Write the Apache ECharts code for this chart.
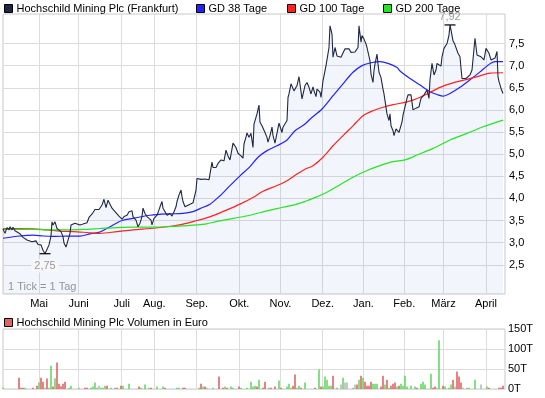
<!DOCTYPE html>
<html>
<head>
<meta charset="utf-8">
<title>Hochschild Mining Plc</title>
<script src="https://cdn.jsdelivr.net/npm/echarts@6/dist/echarts.min.js"></script>
<style>
    html, body { margin: 0; padding: 0; background: #fff; }
    #chart { width: 545px; height: 398px; }
</style>
</head>
<body>
<div id="chart"></div>
<script>
// Kurs in EUR, x = Handelstag seit Anfang April des Vorjahres
var kurs = [
    [0,3.31],[1,3.21],[2,3.34],[3,3.29],[3.5,3.36],[4.5,3.29],[5,3.35],[6,3.27],[7,3.29],[8.5,3.20],[10,3.12],[11,3.15],
    [12,3.06],[13,3.08],[14.5,3.02],[15,3.00],[16.5,3.04],[17.5,2.96],[19,2.95],[20,2.83],[21,2.75],[22,2.77],[23,2.95],
    [24,3.15],[24.5,3.47],[25,3.40],[26,3.47],[27,3.32],[28,3.29],[29,3.25],[30,3.14],[30.5,2.99],[31.5,2.90],[32.5,2.92],
    [33.5,3.21],[34,3.40],[35,3.40],[36,3.44],[37,3.45],[38.5,3.40],[40,3.42],[41,3.42],[42,3.45],[43,3.57],[44,3.62],
    [45,3.68],[46,3.75],[47,3.78],[48,3.75],[49.5,3.85],[50.5,3.98],[51.5,3.79],[52.5,3.96],[53.5,4.00],[54.5,3.78],
    [55,3.81],[56,3.70],[57,3.66],[58,3.60],[59.5,3.53],[60.5,3.59],[62,3.62],[63,3.70],[64.5,3.72],[65,3.59],[66.5,3.51],
    [67.5,3.36],[68.5,3.44],[69.5,3.59],[70,3.78],[71,3.66],[72,3.59],[72.5,3.62],[74,3.51],[74.5,3.40],[75.5,3.55],
    [77,3.62],[77.5,3.68],[78.5,3.81],[79.5,3.93],[80,3.78],[81,3.70],[82,3.62],[82.5,3.59],[83.5,3.66],[84.5,3.60],
    [85.5,3.70],[86.5,3.81],[87,3.93],[88,4.08],[89,4.19],[89.5,4.04],[90,3.93],[91,3.81],[92,3.85],[93.5,3.87],[95,3.90],
    [96,3.89],[96.5,4.19],[97,4.45],[98,4.48],[99,4.43],[100,4.43],[101,4.44],[102,4.45],[103,4.42],[104.5,4.82],[105,4.70],
    [106,4.74],[106.5,4.70],[107.5,4.79],[109,4.87],[110,4.91],[110.5,4.85],[111.5,5.09],[112.5,4.96],[113.5,4.87],
    [114.5,5.12],[115,5.25],[116.5,5.15],[117.5,5.02],[119,4.96],[120,4.91],[120.5,5.23],[121.5,5.39],[122,5.48],[123,5.38],
    [124,5.47],[125,5.15],[125.5,5.68],[126,5.70],[127,5.91],[128,6.11],[128.5,5.72],[129.5,5.64],[130,5.61],[131,5.49],
    [132,5.38],[132.5,5.27],[133.5,5.42],[134.5,5.61],[135,5.42],[136,5.25],[137,5.25],[138,5.70],[138.5,5.68],[139.5,5.49],
    [140,5.61],[141,5.64],[142,5.76],[142.5,6.28],[143,6.36],[144,6.59],[145,6.60],[145.5,6.43],[147,6.55],[148,6.75],
    [149.5,6.25],[150,6.28],[151,6.55],[152,6.62],[153,6.51],[154,6.36],[155,6.52],[155.5,6.43],[156.5,6.30],[157,6.47],
    [158,6.49],[158.5,6.40],[159,6.28],[160,6.66],[160.5,6.77],[161.5,7.00],[162,7.04],[163,7.41],[163.5,7.90],[164.5,7.71],
    [165,7.19],[166,7.41],[167,7.22],[167.5,7.19],[169,7.19],[170,7.20],[171,7.38],[172,7.35],[173,7.38],[174,7.30],
    [175,7.32],[176,7.31],[177,7.32],[177.5,7.41],[178,7.90],[179,7.53],[179.5,7.68],[180.5,7.60],[181.5,7.49],[182,7.41],
    [183,7.38],[183.5,7.11],[184,6.81],[185,6.62],[185.5,6.89],[186,7.04],[187,7.26],[187.5,7.04],[188,6.85],[189,6.73],
    [190,6.47],[190.5,6.36],[191,6.21],[192,5.91],[193,5.76],[193.5,5.91],[194,5.64],[195,5.53],[195.5,5.42],[196.5,5.57],
    [197.5,5.53],[198,5.49],[199.5,5.73],[200,5.88],[201,6.07],[202,6.26],[202.5,6.34],[203,6.30],[204,6.34],[205,6.00],
    [205.5,6.00],[206.5,6.04],[207,6.00],[208,6.07],[209,6.26],[210,6.28],[210.5,6.34],[211.5,6.37],[212,6.45],[213,6.26],
    [213.5,6.68],[214.5,7.05],[215,7.01],[215.5,6.79],[216.5,6.90],[217,7.05],[218,7.09],[219,6.99],[219.5,7.20],[220.5,7.39],
    [221.5,7.35],[222,7.50],[223,7.69],[223.5,7.92],[224,7.81],[225,7.56],[225.5,7.58],[226,7.47],[227,7.43],[227.5,7.28],
    [228.5,7.20],[229,6.94],[229.5,6.71],[230.5,6.71],[231.5,6.71],[232.5,6.71],[233.5,6.79],[234.5,6.90],[235,6.94],
    [236,7.62],[237,7.24],[237.5,7.20],[239,7.20],[240,7.17],[240.5,7.13],[241.5,7.39],[242.5,7.41],[243,7.28],[244,7.13],
    [245,7.09],[246,7.17],[247,7.32],[247.5,6.75],[248,6.64],[249,6.49],[250,6.37]
];

// gleitende Durchschnitte
var gd38 = [
    [0,3.10],[8.5,3.15],[15,3.17],[20,3.15],[25,3.14],[32,3.15],[38.5,3.15],[43.5,3.20],[48.5,3.24],[53.5,3.36],
    [59.5,3.50],[65,3.55],[73.5,3.62],[82,3.65],[90,3.66],[95,3.70],[98.5,3.77],[103.5,3.87],[108.5,4.06],[113.5,4.29],
    [118.5,4.51],[123.5,4.72],[127.5,4.93],[132,5.08],[137,5.19],[142,5.32],[146,5.53],[151,5.68],[153.5,5.79],
    [159.5,6.02],[165,6.32],[170,6.59],[175,6.85],[179.5,7.00],[183.5,7.06],[188.5,7.09],[192.5,7.05],[197,6.96],
    [198.5,6.88],[203.5,6.71],[208.5,6.56],[213.5,6.41],[217.5,6.34],[220,6.31],[223.5,6.37],[228.5,6.51],[233.5,6.68],
    [238.5,6.86],[242.5,7.01],[246,7.09],[250,7.09]
];
var gd100 = [
    [0,3.32],[8.5,3.32],[15,3.31],[22,3.29],[28.5,3.26],[35,3.25],[42,3.23],[48.5,3.21],[57,3.25],[65,3.29],
    [73.5,3.32],[82,3.36],[90,3.42],[97,3.50],[101,3.55],[105,3.61],[112,3.74],[118.5,3.87],[125,4.02],[130,4.16],
    [137,4.29],[142,4.40],[147,4.55],[151,4.66],[155,4.74],[160,4.93],[165,5.19],[170,5.42],[175,5.64],[180,5.87],
    [185,5.98],[190,6.06],[195,6.12],[201,6.17],[205,6.22],[212,6.36],[218.5,6.51],[225,6.61],[232,6.69],[238.5,6.77],
    [243.5,6.83],[250,6.84]
];
var gd200 = [
    [0,3.30],[15,3.30],[23.5,3.29],[32,3.29],[40,3.30],[48.5,3.32],[57,3.34],[65,3.35],[73.5,3.35],[82,3.36],
    [90,3.38],[101,3.42],[107,3.48],[115,3.55],[123.5,3.62],[132,3.72],[140,3.80],[147,3.87],[151,3.93],[155,4.00],
    [162,4.14],[168.5,4.31],[175,4.48],[182,4.63],[188.5,4.74],[195,4.83],[201,4.87],[207,4.98],[215,5.13],[223.5,5.32],
    [232,5.47],[240,5.62],[250,5.77]
];

// Volumen in Tausend Euro: [Tag, Wert, Richtung 1 = Plus, -1 = Minus, 0 = unverändert]
var volumen = [
    [0,3,1],[8,28,-1],[9,3,-1],[10,3,-1],[11,3,1],[15,3,-1],[17,8,-1],[18,16,1],[19,28,-1],[20,18,-1],[21,3,0],
    [22,26,-1],[23,3,1],[24,58,1],[25,6,-1],[26,27,1],[27,66,-1],[28,13,-1],[29,7,-1],[30,13,-1],[31,18,-1],[33,3,1],
    [34,8,1],[38,3,1],[41,3,-1],[42,3,-1],[44,3,1],[45,6,1],[46,16,1],[47,3,1],[48,8,0],[49,3,1],[50,3,1],[51,8,1],
    [52,8,-1],[54,3,1],[56,3,1],[57,3,-1],[59,8,-1],[60,8,1],[63,13,1],[68,6,-1],[69,3,1],[71,11,1],[73,3,1],[74,3,-1],
    [77,6,1],[80,6,1],[81,3,-1],[87,3,1],[88,3,1],[90,3,-1],[91,3,-1],[98,3,1],[99,13,-1],[100,6,1],[101,6,-1],[102,3,0],
    [105,3,1],[108,31,-1],[110,3,-1],[111,6,1],[112,3,-1],[114,6,1],[115,3,1],[118,6,-1],[119,3,1],[122,3,1],[124,18,1],
    [125,6,1],[126,8,1],[127,6,-1],[128,23,1],[130,3,-1],[131,18,-1],[133,3,1],[134,3,-1],[136,6,-1],[138,21,1],
    [139,3,-1],[142,6,1],[143,13,1],[144,3,1],[145,8,-1],[146,36,-1],[147,3,1],[148,8,1],[149,3,-1],[151,16,1],
    [156,3,-1],[158,49,1],[159,6,-1],[160,6,1],[161,31,1],[162,23,1],[163,8,1],[164,8,1],[165,33,-1],[167,3,1],
    [169,11,0],[170,28,1],[171,16,0],[172,16,0],[175,3,1],[176,11,0],[177,11,-1],[178,23,1],[179,33,-1],[180,28,1],
    [181,18,-1],[182,8,-1],[183,8,-1],[184,18,-1],[185,13,1],[186,13,1],[187,13,1],[189,6,-1],[190,33,-1],[191,11,1],
    [192,23,-1],[193,3,1],[194,8,-1],[195,13,-1],[196,16,-1],[197,6,1],[198,8,-1],[199,13,1],[200,8,1],[201,33,1],
    [202,6,1],[204,8,1],[206,6,1],[207,3,-1],[209,13,1],[210,18,1],[211,11,1],[214,38,1],[215,3,-1],[216,6,-1],
    [217,3,0],[218,122,1],[220,8,-1],[221,6,1],[223,3,1],[224,11,1],[225,23,-1],[226,6,0],[227,44,-1],[228,31,-1],
    [229,16,-1],[230,3,0],[232,3,1],[233,3,1],[236,23,1],[239,11,0],[242,6,1],[243,3,-1],[248,3,-1],[249,3,-1],[250,8,-1]
];

// Monatsanfänge (Handelstag) und Beschriftung
var monatTage = [18, 37.85, 59.35, 75.65, 96.85, 118.15, 138.75, 159.85, 180.25, 200.6, 220.25, 241.5];
var monatNamen = ['Mai', 'Juni', 'Juli', 'Aug.', 'Sep.', 'Okt.', 'Nov.', 'Dez.', 'Jan.', 'Feb.', 'März', 'April'];
var kursTicks = [2.5, 3, 3.5, 4, 4.5, 5, 5.5, 6, 6.5, 7, 7.5];
var volTicks = [0, 50, 100, 150];

var farben = { '1': '#5cd65c', '-1': '#de5a5a', '0': '#b4b4b4' };
var gitter = '#dcdcdc';

function komma(v, n) {
    return v.toFixed(n).replace('.', ',');
}

function legende(name, left, top) {
    return {
        data: [name],
        left: left,
        top: top,
        padding: 0,
        icon: 'rect',
        itemWidth: 8,
        itemHeight: 8,
        itemGap: 0,
        selectedMode: false,
        itemStyle: { borderColor: '#000', borderWidth: 1 },
        textStyle: { fontSize: 11, color: '#000', padding: [0, 0, 0, -1] }
    };
}

var xAchse = function(index, labels) {
    return {
        type: 'value',
        gridIndex: index,
        min: 0,
        max: 251,
        axisLine: { show: false },
        axisTick: { show: false, customValues: monatTage },
        splitLine: { show: true, lineStyle: { color: gitter, width: 1 } },
        axisLabel: {
            show: labels,
            customValues: monatTage,
            margin: 4,
            fontSize: 11,
            color: '#000',
            formatter: function(v) {
                var i = monatTage.indexOf(v);
                return i >= 0 ? monatNamen[i] : '';
            }
        }
    };
};

var chart = echarts.init(document.getElementById('chart'), null, { renderer: 'canvas' });

chart.setOption({
    backgroundColor: '#fff',
    animation: false,
    textStyle: { fontFamily: 'Liberation Sans, Arial, sans-serif' },
    legend: [
        legende('Hochschild Mining Plc (Frankfurt)', 4, 3),
        legende('GD 38 Tage', 196, 3),
        legende('GD 100 Tage', 287, 3),
        legende('GD 200 Tage', 383, 3),
        legende('Hochschild Mining Plc Volumen in Euro', 4, 317)
    ],
    grid: [
        { left: 3, top: 14, width: 502, height: 280, show: true, borderColor: '#c8c8c8', borderWidth: 1, backgroundColor: '#fff' },
        { left: 3, top: 329, width: 502, height: 60, show: true, borderColor: '#c8c8c8', borderWidth: 1, backgroundColor: '#fff' }
    ],
    xAxis: [xAchse(0, true), xAchse(1, false)],
    yAxis: [{
        type: 'value',
        gridIndex: 0,
        position: 'right',
        min: 1.84,
        max: 8.167,
        axisLine: { show: false },
        axisTick: { show: false, customValues: kursTicks },
        splitLine: { show: true, lineStyle: { color: gitter, width: 1 } },
        axisLabel: {
            customValues: kursTicks,
            margin: 4,
            fontSize: 11,
            color: '#000',
            formatter: function(v) { return komma(v, 1); }
        }
    }, {
        type: 'value',
        gridIndex: 1,
        position: 'right',
        min: 0,
        max: 150,
        axisLine: { show: false },
        axisTick: { show: false, customValues: volTicks },
        splitLine: { show: true, lineStyle: { color: gitter, width: 1 } },
        axisLabel: {
            customValues: volTicks,
            margin: 3,
            fontSize: 11,
            color: '#000',
            formatter: function(v) { return v + 'T'; }
        }
    }],
    graphic: [{
        type: 'text',
        left: 8,
        top: 281,
        style: { text: '1 Tick = 1 Tag', fill: '#999', fontSize: 11, fontFamily: 'Liberation Sans, Arial, sans-serif' }
    }],
    series: [{
        // Fläche unter dem Kurs
        name: 'Fläche',
        type: 'line',
        data: kurs,
        symbol: 'none',
        silent: true,
        lineStyle: { width: 0 },
        areaStyle: { color: 'rgba(70, 90, 200, 0.09)', origin: 'start' },
        z: 1
    }, {
        name: 'GD 38 Tage',
        type: 'line',
        data: gd38,
        symbol: 'none',
        smooth: 0.3,
        color: '#2222ff',
        lineStyle: { width: 1.2 },
        z: 2
    }, {
        name: 'GD 100 Tage',
        type: 'line',
        data: gd100,
        symbol: 'none',
        smooth: 0.3,
        color: '#ff2222',
        lineStyle: { width: 1.2 },
        z: 2
    }, {
        name: 'GD 200 Tage',
        type: 'line',
        data: gd200,
        symbol: 'none',
        smooth: 0.3,
        color: '#22e622',
        lineStyle: { width: 1.2 },
        z: 2
    }, {
        name: 'Hochschild Mining Plc (Frankfurt)',
        type: 'line',
        data: kurs,
        symbol: 'none',
        color: '#1e2845',
        lineStyle: { width: 1.1 },
        z: 3,
        markPoint: {
            symbol: 'rect',
            symbolSize: [11, 1.2],
            itemStyle: { color: '#000' },
            label: {
                show: true,
                color: '#999',
                fontSize: 11,
                formatter: function(p) { return komma(p.value, 2); }
            },
            data: [
                { type: 'max', valueDim: 'y', label: { position: 'top', distance: 2 } },
                { type: 'min', valueDim: 'y', label: { position: 'bottom', distance: 5, backgroundColor: '#f7f7fa', padding: [1, 3] } }
            ]
        }
    }, {
        name: 'Hochschild Mining Plc Volumen in Euro',
        type: 'bar',
        xAxisIndex: 1,
        yAxisIndex: 1,
        barWidth: 1.5,
        color: '#e06262',
        data: volumen.map(function(d) {
            return { value: [d[0], d[1]], itemStyle: { color: farben[String(d[2])] } };
        })
    }]
});
</script>
</body>
</html>
